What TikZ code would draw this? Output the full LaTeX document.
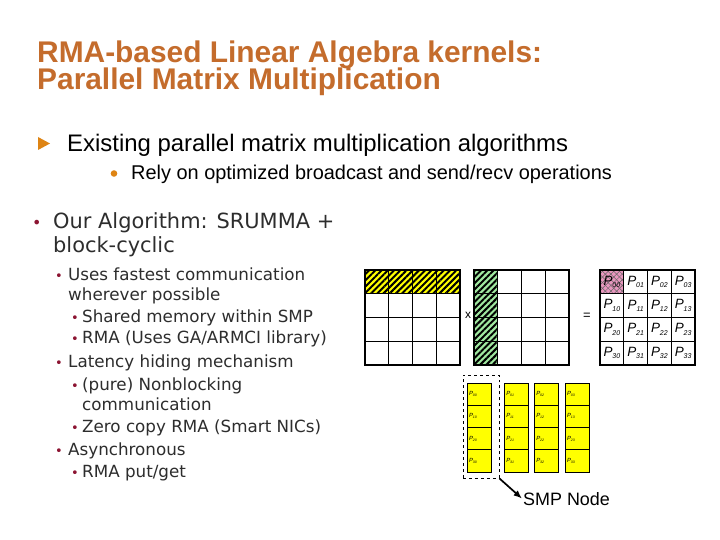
\documentclass[tikz,border=0pt]{standalone}
\usepackage{fontspec}
\setmainfont{Liberation Sans}
\newfontfamily\bodyfont{DejaVu Sans}
\usetikzlibrary{arrows.meta,patterns.meta}
\definecolor{titlec}{RGB}{196,108,44}
\definecolor{arrowc}{RGB}{222,132,20}
\definecolor{bulc}{RGB}{140,20,50}
\definecolor{bodyc}{RGB}{45,45,45}
\definecolor{yelc}{RGB}{255,255,0}
\definecolor{grnc}{RGB}{160,232,160}
\definecolor{pinkc}{RGB}{232,150,190}
\newcommand\bul[2]{\makebox[#1][l]{\color{bulc}\fontsize{#2}{#2}\selectfont •}}
\newcommand\pl[1]{{\itshape P\raisebox{-2.5bp}{\fontsize{7}{7}\selectfont#1}}}
\newcommand\ps[1]{{\itshape P\raisebox{-1bp}{\fontsize{3.5}{4}\selectfont#1}}}

\begin{document}
\begin{tikzpicture}[x=1bp, y=-1bp, >={Latex[length=3mm, width=2.4mm]},
	cell/.style={draw, line width=1.1bp, minimum size=23.75bp, inner sep=0pt, font=\fontsize{13.5}{13.5}\selectfont},
	yhatch/.style={preaction={fill=yelc}, pattern={Lines[angle=45, distance=4.4bp, line width=2bp]}},
	ghatch/.style={preaction={fill=grnc}, pattern={Lines[angle=45, distance=4.4bp, line width=2bp]}},
	phatch/.style={preaction={fill=pinkc}, preaction={pattern={Lines[angle=45, distance=4bp, line width=0.5bp]}, pattern color=black!60}, pattern={Lines[angle=-45, distance=4bp, line width=0.5bp]}, pattern color=black!60},
	smpcell/.style={draw, fill=yelc, line width=0.9bp, minimum width=24.5bp, minimum height=22.25bp, inner xsep=2bp, inner ysep=0pt, text width=20.5bp, align=left, font=\fontsize{6}{6}\selectfont},
	lvlone/.style={anchor=base west, inner sep=0pt, text=bodyc, font=\bodyfont\fontsize{21}{21}\selectfont},
	lvltwo/.style={anchor=base west, inner sep=0pt, text=bodyc, font=\bodyfont\fontsize{16.8}{16.8}\selectfont}]
	\fill[white] (0,0) rectangle (720,540);
	\useasboundingbox (0,0) rectangle (720,540);
	\node[anchor=base west, inner sep=0pt, text=titlec, font=\bfseries\fontsize{30}{30}\selectfont] (ttl1) at (37,63) {RMA-based Linear Algebra kernels:};
	\node[anchor=base west, inner sep=0pt, text=titlec, font=\bfseries\fontsize{30}{30}\selectfont] (ttl2) at (37,90) {Parallel Matrix Multiplication};
	\fill[arrowc] (38,137) -- (50,143.5) -- (38,150) -- cycle;
	\node[anchor=base west, inner sep=0pt, font=\fontsize{24}{24}\selectfont] (exist) at (67,152) {Existing parallel matrix multiplication algorithms};
	\fill[arrowc] (114,173.5) circle (3.3);
	\node[anchor=base west, inner sep=0pt, font=\fontsize{20}{20}\selectfont] (rely) at (131,180) {Rely on optimized broadcast and send/recv operations};
	\node[lvlone] (alg1) at (32,229) {\bul{21bp}{16}Our Algorithm: SRUMMA +};
	\node[lvlone] (alg2) at (53,253) {block-cyclic};
	\node[lvltwo] (fast) at (55,281) {\bul{13bp}{13}Uses fastest communication};
	\node[lvltwo] (fast2) at (68,300) {wherever possible};
	\node[lvltwo] (shm) at (71,322) {\bul{11bp}{13}Shared memory within SMP};
	\node[lvltwo] (rma) at (71,343) {\bul{11bp}{13}RMA (Uses GA/ARMCI library)};
	\node[lvltwo] (lat) at (55,367) {\bul{13bp}{13}Latency hiding mechanism};
	\node[lvltwo] (nonb) at (71,390) {\bul{11bp}{13}(pure) Nonblocking};
	\node[lvltwo] (nonb2) at (82,410) {communication};
	\node[lvltwo] (zero) at (71,432) {\bul{11bp}{13}Zero copy RMA (Smart NICs)};
	\node[lvltwo] (async) at (55,455) {\bul{13bp}{13}Asynchronous};
	\node[lvltwo] (putget) at (71,477) {\bul{11bp}{13}RMA put/get};
	\foreach \c in {0,...,3}
		\node[cell, yhatch] (a0\c) at ({376.875+23.75*\c},281.875) {};
	\foreach \r in {1,2,3}
		\foreach \c in {0,...,3}
			\node[cell] (a\r\c) at ({376.875+23.75*\c},{281.875+23.75*\r}) {};
	\foreach \r in {0,...,3}
		\node[cell, ghatch] (b\r0) at (485.875,{281.875+23.75*\r}) {};
	\foreach \r in {0,...,3}
		\foreach \c in {1,2,3}
			\node[cell] (b\r\c) at ({485.875+23.75*\c},{281.875+23.75*\r}) {};
	\node[cell, phatch] (c00) at (611.875,281.875) {\pl{00}};
	\foreach \r/\c in {0/1,0/2,0/3,1/0,1/1,1/2,1/3,2/0,2/1,2/2,2/3,3/0,3/1,3/2,3/3}
		\node[cell] (c\r\c) at ({611.875+23.75*\c},{281.875+23.75*\r}) {\pl{\r\c}};
	\node[font=\fontsize{12}{12}\selectfont, inner sep=1pt] (times) at (468,315) {x};
	\node[font=\fontsize{13}{13}\selectfont, inner sep=1pt] (eq) at (587,316) {=};
	\foreach \x [count=\c from 0] in {479.25,516.5,546.5,577.25}
		\foreach \r in {0,...,3}
			\node[smpcell] (s\r\c) at (\x,{394.1+22.25*\r}) {\ps{\r\c}\\[4bp]};
	\node[draw, dashed, line width=0.9bp, minimum width=36bp, minimum height=103bp] (smp) at (481,426.5) {};
	\node[anchor=base west, inner sep=1pt, font=\fontsize{18}{18}\selectfont] (smplbl) at (522,505) {SMP Node};
	\draw[->, line width=1.7bp] (smp.south east) -- (smplbl.west);
\end{tikzpicture}
\end{document}
